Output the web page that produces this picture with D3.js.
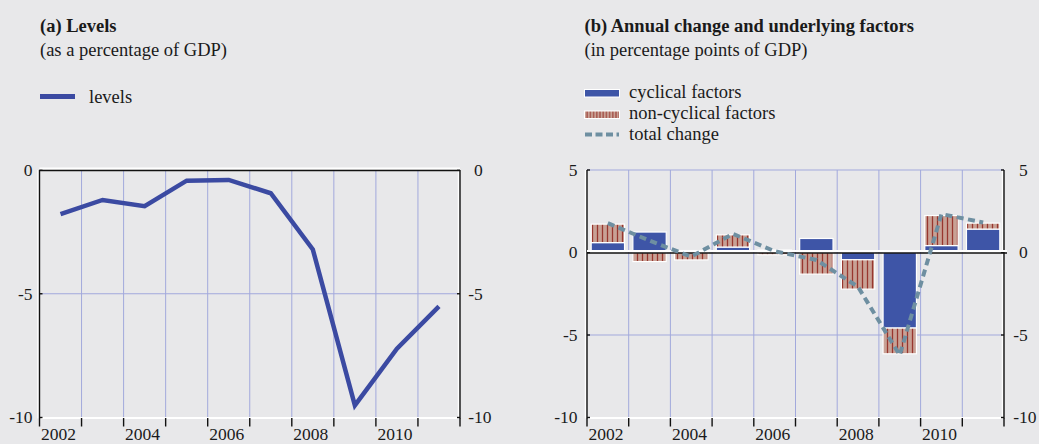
<!DOCTYPE html>
<html>
<head>
<meta charset="utf-8">
<script src="https://cdn.jsdelivr.net/npm/d3@7"></script>
<style>
  body { margin: 0; background: #e8e8ea; }
  svg { display: block; }
  text { font-family: "Liberation Serif", "Times New Roman", serif; fill: #1a1a1a; }
</style>
</head>
<body>
<svg id="chart" width="1039" height="444"></svg>
<script>
'use strict';

var years = [2002, 2003, 2004, 2005, 2006, 2007, 2008, 2009, 2010, 2011];
var yearLabels = [2002, 2004, 2006, 2008, 2010];
var levels = [-1.78, -1.21, -1.46, -0.43, -0.40, -0.94, -3.21, -9.51, -7.22, -5.51];
var cyclical = [0.60, 1.24, 0.12, 0.33, 0.15, 0.85, -0.44, -4.58, 0.42, 1.42];
var nonCyclical = [1.12, -0.55, -0.45, 0.74, -0.14, -1.31, -1.78, -1.56, 1.82, 0.36];
var totalChange = [1.78, 0.72, -0.25, 1.13, 0.08, -0.45, -2.08, -6.22, 2.33, 1.82];
var ticksA = [0, -5, -10];
var ticksB = [5, 0, -5, -10];

var gridColor = '#a2a9dc';
var blue = '#3e55a7';
var titleSize = '18.5px';
var tickSize = '17.5px';

var svg = d3.select('#chart');

var defs = svg.append('defs');
var hatch = defs.append('pattern')
    .attr('id', 'hatch')
    .attr('patternUnits', 'userSpaceOnUse')
    .attr('width', 5)
    .attr('height', 10);
hatch.append('rect').attr('width', 5).attr('height', 10).attr('fill', '#c8a195');
hatch.append('line')
    .attr('x1', 2.5).attr('x2', 2.5).attr('y1', 0).attr('y2', 10)
    .attr('stroke', '#98362e').attr('stroke-width', 1.3);

var hatchSmall = defs.append('pattern')
    .attr('id', 'hatchSmall')
    .attr('patternUnits', 'userSpaceOnUse')
    .attr('width', 3.2)
    .attr('height', 10);
hatchSmall.append('rect').attr('width', 3.2).attr('height', 10).attr('fill', '#c8a195');
hatchSmall.append('line')
    .attr('x1', 1.6).attr('x2', 1.6).attr('y1', 0).attr('y2', 10)
    .attr('stroke', '#98362e').attr('stroke-width', 1);

// frame, gridlines, labels shared by both panels
function drawFrame(g, x, y, ticks, leftLabelX, rightDigitX) {
  var x0 = x.range()[0], x1 = x.range()[1];
  var y0 = y.range()[0], y1 = y.range()[1];
  var bounds = years.map(function(d) { return x(d); }).concat([x1]);

  g.append('g').selectAll('line').data(bounds.slice(1, -1)).join('line')
      .attr('x1', function(d) { return d; }).attr('x2', function(d) { return d; })
      .attr('y1', y1).attr('y2', y0)
      .attr('stroke', gridColor).attr('stroke-width', 1);

  g.append('g').selectAll('line').data(ticks.filter(function(t) { return t !== 0; })).join('line')
      .attr('x1', x0).attr('x2', x1)
      .attr('y1', function(d) { return y(d); }).attr('y2', function(d) { return y(d); })
      .attr('stroke', gridColor).attr('stroke-width', 1);

  // bottom axis with ticks at band edges
  g.append('line')
      .attr('x1', x0).attr('x2', x1).attr('y1', y0 + 0.5).attr('y2', y0 + 0.5)
      .attr('stroke', '#fff').attr('stroke-width', 2);
  g.append('g').selectAll('line').data(bounds).join('line')
      .attr('x1', function(d) { return d; }).attr('x2', function(d) { return d; })
      .attr('y1', y0 + 0.5).attr('y2', y0 + 9)
      .attr('stroke', '#111').attr('stroke-width', 1.4);

  // vertical axes
  [x0, x1].forEach(function(xx) {
    g.append('line')
        .attr('x1', xx - 1.5).attr('x2', xx - 1.5).attr('y1', y1).attr('y2', y0 + 1)
        .attr('stroke', '#fff').attr('stroke-width', 1.5);
    g.append('line')
        .attr('x1', xx).attr('x2', xx).attr('y1', y1).attr('y2', y0 + 1)
        .attr('stroke', '#111').attr('stroke-width', 1.4);
  });
  g.append('g').selectAll('line').data(ticks).join('line')
      .attr('x1', x0).attr('x2', x0 + 3)
      .attr('y1', function(d) { return y(d); }).attr('y2', function(d) { return y(d); })
      .attr('stroke', '#111').attr('stroke-width', 1.4);
  g.append('g').selectAll('line').data(ticks).join('line')
      .attr('x1', x1 - 3).attr('x2', x1)
      .attr('y1', function(d) { return y(d); }).attr('y2', function(d) { return y(d); })
      .attr('stroke', '#111').attr('stroke-width', 1.4);

  g.append('g').selectAll('text').data(ticks).join('text')
      .attr('x', leftLabelX)
      .attr('y', function(d) { return y(d); })
      .attr('dy', '0.34em')
      .attr('text-anchor', 'end')
      .style('font-size', tickSize)
      .text(function(d) { return d; });

  var right = g.append('g').selectAll('g').data(ticks).join('g')
      .attr('transform', function(d) { return 'translate(' + rightDigitX + ',' + y(d) + ')'; });
  right.append('text')
      .attr('dy', '0.34em')
      .style('font-size', tickSize)
      .text(function(d) { return Math.abs(d); });
  right.filter(function(d) { return d < 0; }).append('text')
      .attr('dy', '0.34em')
      .attr('text-anchor', 'end')
      .style('font-size', tickSize)
      .text('-');

  g.append('g').selectAll('text').data(yearLabels).join('text')
      .attr('x', function(d) { return x(d) + 1.5; })
      .attr('y', 440)
      .style('font-size', tickSize)
      .text(function(d) { return d; });
}

function drawZeroLine(g, x, y, extra) {
  var x0 = x.range()[0], x1 = x.range()[1];
  g.append('line')
      .attr('x1', x0).attr('x2', x1 + extra).attr('y1', y(0) - 1.5).attr('y2', y(0) - 1.5)
      .attr('stroke', '#fff').attr('stroke-width', 2);
  g.append('line')
      .attr('x1', x0).attr('x2', x1 + extra).attr('y1', y(0) + 0.5).attr('y2', y(0) + 0.5)
      .attr('stroke', '#111').attr('stroke-width', 1.6);
}

function drawTitle(g, x, title, subtitle) {
  g.append('text').attr('x', x).attr('y', 32)
      .style('font-size', titleSize).style('font-weight', 'bold').text(title);
  g.append('text').attr('x', x).attr('y', 55.5)
      .style('font-size', titleSize).text(subtitle);
}

// ---------- panel (a) ----------
var xA = d3.scaleBand().domain(years).range([39.5, 460]);
var yA = d3.scaleLinear().domain([-10, 0]).range([417.5, 170]);
var gA = svg.append('g');

drawTitle(gA, 40, '(a) Levels', '(as a percentage of GDP)');
gA.append('line').attr('x1', 40).attr('x2', 75).attr('y1', 96.5).attr('y2', 96.5)
    .attr('stroke', '#3b4aa2').attr('stroke-width', 5);
gA.append('text').attr('x', 89).attr('y', 102.5).style('font-size', titleSize).text('levels');

drawFrame(gA, xA, yA, ticksA, 32.5, 474);
drawZeroLine(gA, xA, yA, 0);

gA.append('path')
    .datum(years)
    .attr('fill', 'none')
    .attr('stroke', '#3b4aa2')
    .attr('stroke-width', 4.5)
    .attr('stroke-linejoin', 'miter')
    .attr('d', d3.line()
        .x(function(d) { return xA(d) + xA.bandwidth() / 2; })
        .y(function(d, i) { return yA(levels[i]); }));

// ---------- panel (b) ----------
var xB = d3.scaleBand().domain(years).range([587, 1004]).paddingInner(0.2).paddingOuter(0.1);
var xBg = d3.scaleBand().domain(years).range([587, 1004]);
var yB = d3.scaleLinear().domain([-10, 5]).range([417.5, 170]);
var gB = svg.append('g');

drawTitle(gB, 584.5, '(b) Annual change and underlying factors', '(in percentage points of GDP)');

var legendB = gB.append('g');
legendB.append('rect').attr('x', 584.5).attr('y', 89.5).attr('width', 35).attr('height', 7.5)
    .attr('fill', blue).attr('stroke', '#fff').attr('stroke-width', 1);
legendB.append('text').attr('x', 629).attr('y', 97.5).style('font-size', titleSize).text('cyclical factors');
legendB.append('rect').attr('x', 584.5).attr('y', 111).attr('width', 35).attr('height', 7.5)
    .attr('fill', 'url(#hatchSmall)').attr('stroke', '#fff').attr('stroke-width', 1);
legendB.append('text').attr('x', 629).attr('y', 118.5).style('font-size', titleSize).text('non-cyclical factors');
legendB.append('line').attr('x1', 585).attr('x2', 619).attr('y1', 134.5).attr('y2', 134.5)
    .attr('stroke', '#6e8fa1').attr('stroke-width', 4).attr('stroke-dasharray', '7,3.5');
legendB.append('text').attr('x', 629).attr('y', 139.5).style('font-size', titleSize).text('total change');

drawFrame(gB, xBg, yB, ticksB, 577.5, 1019);

var rows = years.map(function(d, i) {
  return {year: d, cyclical: cyclical[i], nonCyclical: nonCyclical[i]};
});
var series = d3.stack()
    .keys(['cyclical', 'nonCyclical'])
    .offset(d3.stackOffsetDiverging)(rows);
var fills = {cyclical: blue, nonCyclical: 'url(#hatch)'};

gB.append('g').selectAll('g').data(series).join('g')
    .attr('fill', function(s) { return fills[s.key]; })
  .selectAll('rect').data(function(s) { return s; }).join('rect')
    .attr('x', function(d) { return xB(d.data.year); })
    .attr('width', xB.bandwidth())
    .attr('y', function(d) { return yB(Math.max(d[0], d[1])); })
    .attr('height', function(d) { return Math.abs(yB(d[0]) - yB(d[1])); })
    .attr('stroke', '#fff')
    .attr('stroke-width', 1.2);

drawZeroLine(gB, xBg, yB, 3);

gB.append('path')
    .datum(years)
    .attr('fill', 'none')
    .attr('stroke', '#6e8fa1')
    .attr('stroke-width', 4)
    .attr('stroke-dasharray', '7,4.5')
    .attr('d', d3.line()
        .x(function(d) { return xBg(d) + xBg.bandwidth() / 2; })
        .y(function(d, i) { return yB(totalChange[i]); }));
</script>
</body>
</html>
